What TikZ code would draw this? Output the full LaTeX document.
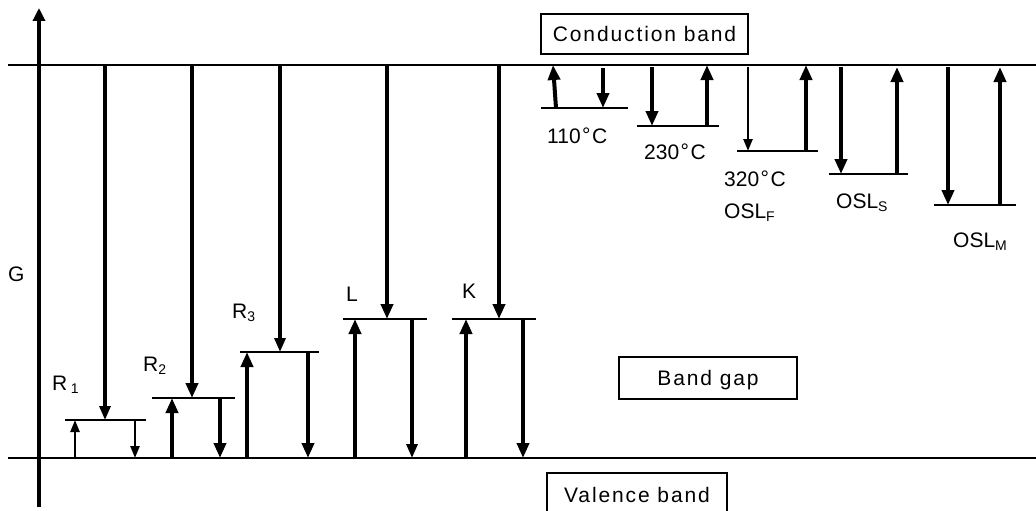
\documentclass[tikz,border=0pt]{standalone}
\usepackage{fontspec}
\setmainfont{Liberation Sans}
\usetikzlibrary{arrows.meta}
\newcommand\mysub[1]{\raisebox{-3pt}{\fontsize{14}{14}\selectfont #1}}
\newcommand\degC{\kern1.5pt\raisebox{1pt}{°}\kern1.5pt C}
\begin{document}
\begin{tikzpicture}[x=1pt,y=-1pt,
  lvl/.style={line width=2pt},
  band/.style={line width=2pt},
  thk/.style={line width=4pt,-{Triangle[length=15pt,width=12pt]}},
  med/.style={line width=3.2pt,-{Triangle[length=14pt,width=11pt]}},
  thn/.style={line width=2.4pt,-{Triangle[length=12pt,width=9pt]}},
  lab/.style={anchor=base west,inner sep=0pt,font=\fontsize{21}{24}\selectfont},
  boxlab/.style={draw,line width=1.8pt,inner sep=0pt,text height=15pt,text depth=0pt,
    font=\fontsize{21}{24}\selectfont\addfontfeature{LetterSpace=9}}
]
\useasboundingbox (0,0) rectangle (1036,511);

% bands
\draw[band] (8,65) -- (1036,65);
\draw[band] (8,458) -- (1036,458);
% energy axis
\draw[line width=3.4pt,-{Triangle[length=13pt,width=12pt]}] (39,507) -- (39,8);
\node[lab] (G) at (8,281) {G};

% boxes
\node[boxlab,minimum width=207pt,minimum height=40pt] (cb) at (644.5,34) {Conduction band};
\node[boxlab,minimum width=178pt,minimum height=42pt] (bg) at (708,378) {Band gap};
\node[boxlab,minimum width=180pt,minimum height=44pt] (vb) at (637,495) {Valence band};

% ---- left group: levels
\draw[lvl] (65,420) -- (146,420);
\draw[lvl] (152,398) -- (235,398);
\draw[lvl] (240,352) -- (319,352);
\draw[lvl] (343,319) -- (427,319);
\draw[lvl] (452,319) -- (536,319);

% down from conduction band
\draw[med] (105,65) -- (105,420);
\draw[thk] (192,65) -- (192,398);
\draw[med] (280,65) -- (280,352);
\draw[thk] (387,65) -- (387,319);
\draw[thk] (499,65) -- (499,319);

% up from valence band
\draw[thn] (75,458) -- (75,420);
\draw[thk] (172,458) -- (172,398);
\draw[thk] (247,458) -- (247,352);
\draw[thk] (355,458) -- (355,319);
\draw[thk] (466,458) -- (466,319);

% down to valence band
\draw[thn] (135,420) -- (135,458);
\draw[thk] (220,398) -- (220,458);
\draw[thk] (308,352) -- (308,458);
\draw[med] (412,319) -- (412,458);
\draw[thk] (523,319) -- (523,458);

% labels left
\node[lab] (R1) at (52,390) {R\,\mysub{1}};
\node[lab] (R2) at (143,371) {R\mysub{2}};
\node[lab] (R3) at (232,318) {R\mysub{3}};
\node[lab] (L) at (346,301) {L};
\node[lab] (K) at (462,298) {K};

% ---- right group: levels
\draw[lvl] (541,108) -- (628,108);
\draw[lvl] (637,126) -- (719,126);
\draw[lvl] (737,151) -- (818,151);
\draw[lvl] (829,174) -- (908,174);
\draw[lvl] (934,205) -- (1016,205);

\draw[thk] (556,108) -- (553,65);
\draw[thk] (603,68) -- (603,108);
\draw[thk] (652,67) -- (652,126);
\draw[thk] (707,126) -- (707,65);
\draw[thn] (748,67) -- (748,151);
\draw[thk] (806,151) -- (806,65);
\draw[thk] (841,67) -- (841,174);
\draw[thk] (897,174) -- (897,67);
\draw[thk] (948,67) -- (948,205);
\draw[thk] (1000,205) -- (1000,67);

% labels right
\node[lab] (t110) at (547,143) {110\degC};
\node[lab] (t230) at (644,159) {230\degC};
\node[lab] (t320) at (724,186) {320\degC};
\node[lab] (oslf) at (724,218) {OSL\mysub{F}};
\node[lab] (osls) at (836,208) {OSL\mysub{S}};
\node[lab] (oslm) at (953,247) {OSL\mysub{M}};
\end{tikzpicture}
\end{document}
